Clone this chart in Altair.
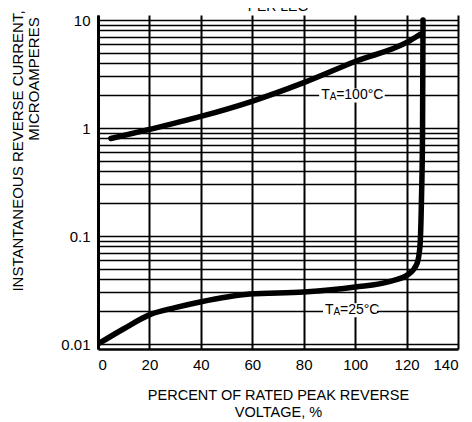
import altair as alt
import pandas as pd

# Data
x_100 = [5, 20, 40, 59, 80, 100, 120.6, 125.2]
y_100 = [0.80, 0.97, 1.28, 1.74, 2.63, 4.13, 6.3, 7.35]

x_25 = [0, 9.7, 20.2, 30, 39.7, 59, 80, 100, 113.6, 120.6, 124, 125.2, 125.8, 126.2, 126.4]
y_25 = [0.01, 0.0137, 0.0187, 0.0217, 0.0245, 0.029, 0.0303, 0.0337, 0.038, 0.044, 0.055, 0.08, 0.22, 0.88, 10]

x_ticks = [0, 20, 40, 60, 80, 100, 120, 140]
y_grid = [0.01, 0.02, 0.03, 0.04, 0.05, 0.06, 0.07, 0.08, 0.09,
          0.1, 0.2, 0.3, 0.4, 0.5, 0.6, 0.7, 0.8, 0.9,
          1, 2, 3, 4, 5, 6, 7, 8, 9, 10]
y_labels = [0.01, 0.1, 1, 10]

labels_text = ["=100°C", "=25°C"]
labels_x = [86, 87.5]      # left start of each label
labels_x2 = [111.5, 108.5]  # right end of the white gap behind it
labels_y = [2.0, 0.0205]

FONT = "Liberation Sans"

df100 = pd.DataFrame({"x": x_100, "y": y_100})
df25 = pd.DataFrame({"x": x_25, "y": y_25})
dfl = pd.DataFrame({"x": labels_x, "x2": labels_x2, "y": labels_y, "t": labels_text})

xs = alt.Scale(domain=[0, 140], nice=False)
ys = alt.Scale(type="log", domain=[0.01, 10], nice=False)

label_expr = "indexof([0.01,0.1,1,10], datum.value) >= 0 ? datum.label : ''"

base_x = alt.X("x:Q", scale=xs, axis=alt.Axis(
    values=x_ticks, grid=True, gridColor="black", gridWidth=2, gridOpacity=1,
    domainColor="black", domainWidth=2.5, ticks=False, labelPadding=8,
    labelFont=FONT, labelFontSize=15, labelColor="black",
    title=["PERCENT OF RATED PEAK REVERSE", "VOLTAGE, %"],
    titleFont=FONT, titleFontSize=14.5, titleFontWeight="normal", titleColor="black",
    titlePadding=16, titleLineHeight=17))
base_y = alt.Y("y:Q", scale=ys, axis=alt.Axis(
    values=y_grid, grid=True, gridColor="black", gridWidth=1.6, gridOpacity=1,
    domainColor="black", domainWidth=3, ticks=False, labelPadding=8,
    format="~g", labelExpr=label_expr,
    labelFont=FONT, labelFontSize=15, labelColor="black", title=None))

curve100 = alt.Chart(df100).mark_line(
    color="black", strokeWidth=5.5, interpolate="monotone", strokeCap="round"
).encode(x=base_x, y=base_y)

curve25 = alt.Chart(df25).mark_line(
    color="black", strokeWidth=5.5, interpolate="monotone", strokeCap="round", clip=True
).encode(x=alt.X("x:Q", scale=xs), y=alt.Y("y:Q", scale=ys))

boxes = alt.Chart(dfl).mark_bar(color="white", height=14).encode(
    x=alt.X("x:Q", scale=xs), x2="x2:Q", y=alt.Y("y:Q", scale=ys))

enc = dict(x=alt.X("x:Q", scale=xs), y=alt.Y("y:Q", scale=ys))
t_T = alt.Chart(dfl).mark_text(
    font=FONT, fontSize=14, color="black", align="left", baseline="middle", dx=2
).encode(text=alt.value("T"), **enc)
t_A = alt.Chart(dfl).mark_text(
    font=FONT, fontSize=10, color="black", align="left", baseline="middle", dx=10.5, dy=1.5
).encode(text=alt.value("A"), **enc)
t_main = alt.Chart(dfl).mark_text(
    font=FONT, fontSize=14, color="black", align="left", baseline="middle", dx=17
).encode(text="t:N", **enc)

one = pd.DataFrame({"a": [0]})
ytitle1 = alt.Chart(one).mark_text(
    font=FONT, fontSize=15, color="black", angle=270, align="center", baseline="middle"
).encode(x=alt.value(-80), y=alt.value(136), text=alt.value("INSTANTANEOUS REVERSE  CURRENT,"))
ytitle2 = alt.Chart(one).mark_text(
    font=FONT, fontSize=15, color="black", angle=270, align="center", baseline="middle"
).encode(x=alt.value(-64), y=alt.value(64), text=alt.value("MICROAMPERES"))
toptitle = alt.Chart(one).mark_text(
    font=FONT, fontSize=14, color="black", align="center", baseline="alphabetic"
).encode(x=alt.value(180), y=alt.value(-4), text=alt.value("PER LEG"))

chart = alt.layer(
    curve100, curve25, boxes, t_T, t_A, t_main, ytitle1, ytitle2, toptitle
).properties(
    width=360, height=334,
    autosize=alt.AutoSizeParams(type="none"),
    padding={"left": 90, "top": 7, "right": 6, "bottom": 73},
    background="white"
).configure_view(stroke=None)

chart.save("out.html", embed_options={"renderer": "svg", "actions": False})
